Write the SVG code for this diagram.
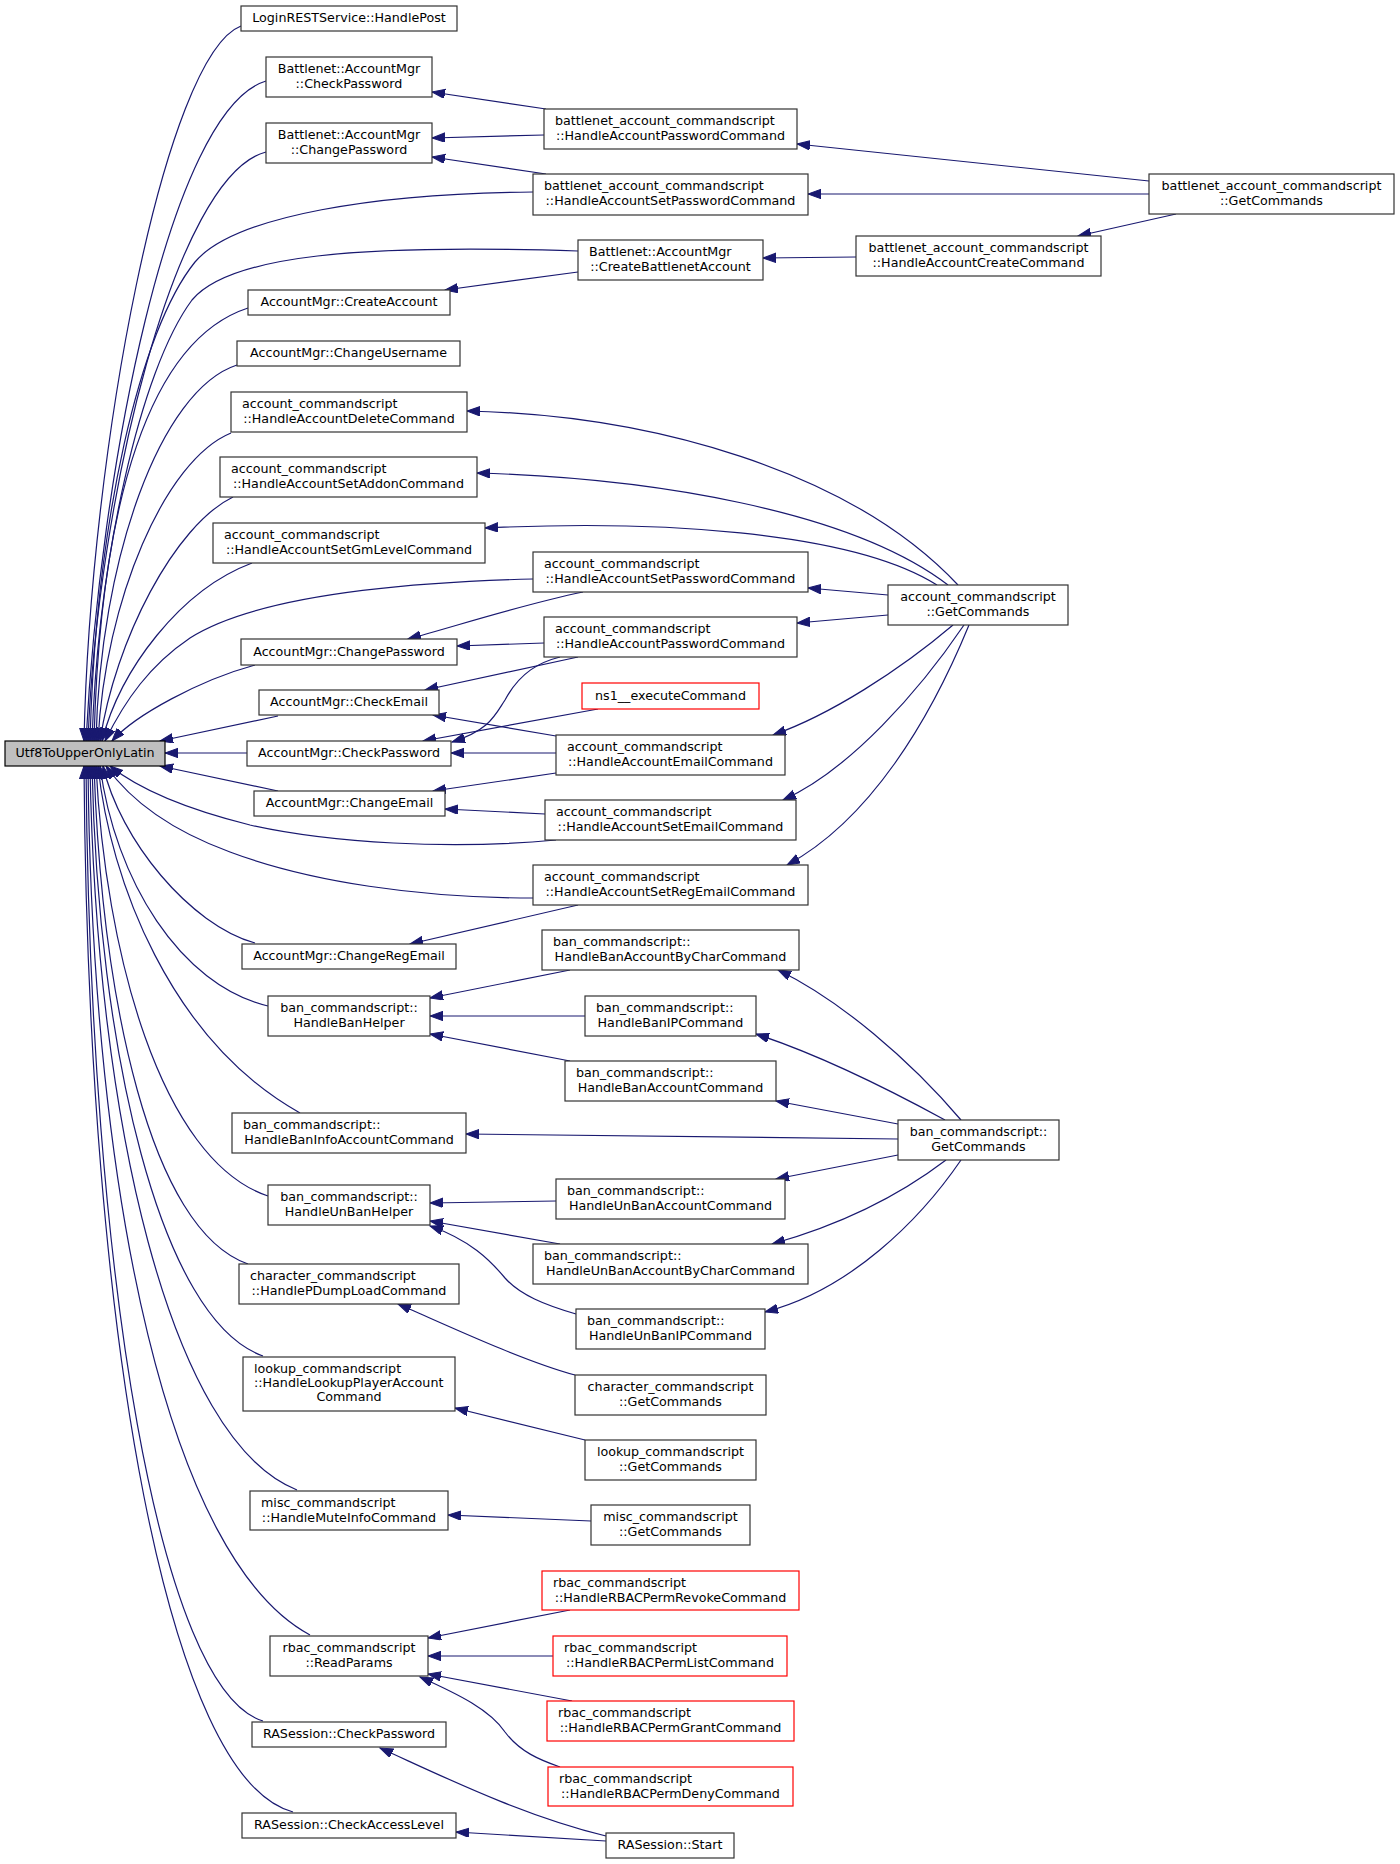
<svg xmlns="http://www.w3.org/2000/svg" width="1400" height="1864" viewBox="0 0 1400 1864">
<style>
.node rect{fill:#fff;stroke:#333;stroke-width:1.2}
.red rect{stroke:#ff0000}
.hl rect{fill:#bfbfbf;stroke:#000}
text{font-family:"DejaVu Sans","Liberation Sans",sans-serif;font-size:12.7px;fill:#000}
.c{text-anchor:middle}
#edges path{fill:none;stroke:#191970;stroke-width:1.2;marker-start:url(#ah)}
</style>
<defs>
<marker id="ah" markerUnits="userSpaceOnUse" markerWidth="15" markerHeight="11" refX="13" refY="4.7" orient="auto-start-reverse">
<path d="M0,0 L13,4.7 L0,9.4 z" fill="#191970" stroke="#191970" stroke-width="1"/>
</marker>
</defs>
<rect x="0" y="0" width="1400" height="1864" fill="#fff"/>
<g id="edges">
<path d="M 84,741 C 90,450 165,55 241,26"/>
<path d="M 86,741 C 100,470 170,110 266,81"/>
<path d="M 88,741 C 97,500 175,175 266,152"/>
<path d="M 90,741 C 96,520 140,330 195,262 C 235,215 380,193 533,192"/>
<path d="M 92,741 C 98,560 140,370 192,300 C 230,255 360,244 578,251"/>
<path d="M 94,741 C 100,500 150,340 248,308"/>
<path d="M 96,741 C 100,560 160,390 237,365"/>
<path d="M 98,741 C 105,600 165,460 231,433"/>
<path d="M 100,741 C 115,640 175,525 233,497"/>
<path d="M 102,741 C 120,670 180,590 252,563"/>
<path d="M 105,741 C 125,700 150,665 190,638 C 250,600 380,583 533,579"/>
<path d="M 112,741 C 135,715 200,680 255,665"/>
<path d="M 160,741 L 278,716"/>
<path d="M 165,753 L 247,753"/>
<path d="M 160,766 L 278,791"/>
<path d="M 110,766 C 140,790 190,810 250,825 C 330,843 450,850 556,840"/>
<path d="M 106,766 C 130,800 170,830 230,852 C 310,882 420,898 533,898"/>
<path d="M 103,766 C 120,840 190,925 255,943"/>
<path d="M 100,766 C 115,880 180,985 268,1006"/>
<path d="M 98,766 C 110,880 170,1040 300,1113"/>
<path d="M 96,766 C 105,950 160,1160 268,1196"/>
<path d="M 94,766 C 102,1000 150,1230 248,1264"/>
<path d="M 92,766 C 98,1050 160,1320 263,1356"/>
<path d="M 90,766 C 96,1120 170,1440 297,1490"/>
<path d="M 88,766 C 92,1200 170,1560 310,1635"/>
<path d="M 86,766 C 90,1280 160,1690 263,1721"/>
<path d="M 84,766 C 88,1350 170,1780 293,1812"/>
<path d="M 432,92 L 546,109"/>
<path d="M 432,138 L 544,135"/>
<path d="M 432,157 L 546,174"/>
<path d="M 445,290 L 578,272"/>
<path d="M 797,144 L 1149,181"/>
<path d="M 808,194 L 1149,194"/>
<path d="M 763,258 L 856,257"/>
<path d="M 1078,236 L 1176,214"/>
<path d="M 467,411 C 650,415 850,470 958,585"/>
<path d="M 477,473 C 650,478 850,510 948,585"/>
<path d="M 485,528 C 650,520 850,530 937,585"/>
<path d="M 808,588 L 888,595"/>
<path d="M 797,623 L 888,615"/>
<path d="M 773,735 C 830,715 900,670 953,625"/>
<path d="M 783,800 C 850,770 920,690 964,625"/>
<path d="M 787,865 C 870,820 930,720 969,625"/>
<path d="M 408,639 C 450,628 520,605 583,592"/>
<path d="M 457,646 L 544,643"/>
<path d="M 425,690 L 578,657"/>
<path d="M 452,742 C 490,730 495,715 505,700 C 520,672 540,662 560,657"/>
<path d="M 423,741 L 598,709"/>
<path d="M 451,753 L 556,753"/>
<path d="M 433,715 L 556,736"/>
<path d="M 433,791 L 556,773"/>
<path d="M 445,809 L 545,814"/>
<path d="M 410,944 L 578,905"/>
<path d="M 430,998 L 570,970"/>
<path d="M 430,1016 L 585,1016"/>
<path d="M 430,1034 L 570,1061"/>
<path d="M 778,970 C 840,1000 910,1060 961,1120"/>
<path d="M 756,1034 C 820,1055 890,1090 945,1120"/>
<path d="M 776,1101 L 898,1124"/>
<path d="M 466,1134 L 898,1139"/>
<path d="M 776,1179 L 898,1155"/>
<path d="M 772,1244 C 840,1225 900,1195 946,1160"/>
<path d="M 765,1312 C 850,1290 920,1220 961,1160"/>
<path d="M 430,1203 L 556,1201"/>
<path d="M 430,1221 L 560,1244"/>
<path d="M 430,1226 C 470,1240 490,1260 505,1278 C 520,1295 545,1305 576,1314"/>
<path d="M 398,1304 C 440,1322 520,1360 575,1375"/>
<path d="M 455,1408 L 585,1440"/>
<path d="M 448,1515 L 591,1521"/>
<path d="M 428,1638 L 570,1610"/>
<path d="M 428,1656 L 553,1656"/>
<path d="M 428,1674 L 572,1701"/>
<path d="M 420,1677 C 460,1695 490,1710 505,1732 C 520,1752 540,1760 560,1767"/>
<path d="M 380,1748 C 440,1775 520,1815 606,1836"/>
<path d="M 456,1832 L 606,1841"/>
</g>
<g id="n_utf8" class="node hl"><rect x="5" y="741" width="160" height="25"/><text class="c" x="85" y="757">Utf8ToUpperOnlyLatin</text></g>
<g id="n_login" class="node"><rect x="241" y="6" width="216" height="25"/><text class="c" x="349" y="22">LoginRESTService::HandlePost</text></g>
<g id="n_bnet_checkpwd" class="node"><rect x="266" y="57" width="166" height="40"/><text class="c" x="349" y="73">Battlenet::AccountMgr</text><text class="c" x="349" y="87.5">::CheckPassword</text></g>
<g id="n_bnet_changepwd" class="node"><rect x="266" y="123" width="166" height="40"/><text class="c" x="349" y="139">Battlenet::AccountMgr</text><text class="c" x="349" y="153.5">::ChangePassword</text></g>
<g id="n_bn_hapc" class="node"><rect x="544" y="109" width="253" height="40"/><text x="555" y="125">battlenet_account_commandscript</text><text class="c" x="670.5" y="139.5">::HandleAccountPasswordCommand</text></g>
<g id="n_bn_haspc" class="node"><rect x="533" y="174" width="275" height="41"/><text x="544" y="190">battlenet_account_commandscript</text><text class="c" x="670.5" y="204.5">::HandleAccountSetPasswordCommand</text></g>
<g id="n_bnet_create" class="node"><rect x="578" y="240" width="185" height="40"/><text x="589" y="256">Battlenet::AccountMgr</text><text class="c" x="670.5" y="270.5">::CreateBattlenetAccount</text></g>
<g id="n_bn_hacc" class="node"><rect x="856" y="236" width="245" height="40"/><text class="c" x="978.5" y="252">battlenet_account_commandscript</text><text class="c" x="978.5" y="266.5">::HandleAccountCreateCommand</text></g>
<g id="n_bn_get" class="node"><rect x="1149" y="174" width="245" height="40"/><text class="c" x="1271.5" y="190">battlenet_account_commandscript</text><text class="c" x="1271.5" y="204.5">::GetCommands</text></g>
<g id="n_am_create" class="node"><rect x="248" y="290" width="202" height="25"/><text class="c" x="349" y="306">AccountMgr::CreateAccount</text></g>
<g id="n_am_username" class="node"><rect x="237" y="341" width="223" height="25"/><text class="c" x="348.5" y="357">AccountMgr::ChangeUsername</text></g>
<g id="n_ac_delete" class="node"><rect x="231" y="392" width="236" height="40"/><text x="242" y="408">account_commandscript</text><text class="c" x="349" y="422.5">::HandleAccountDeleteCommand</text></g>
<g id="n_ac_addon" class="node"><rect x="220" y="457" width="257" height="40"/><text x="231" y="473">account_commandscript</text><text class="c" x="348.5" y="487.5">::HandleAccountSetAddonCommand</text></g>
<g id="n_ac_gm" class="node"><rect x="213" y="523" width="272" height="40"/><text x="224" y="539">account_commandscript</text><text class="c" x="349" y="553.5">::HandleAccountSetGmLevelCommand</text></g>
<g id="n_ac_setpwd" class="node"><rect x="533" y="552" width="275" height="40"/><text x="544" y="568">account_commandscript</text><text class="c" x="670.5" y="582.5">::HandleAccountSetPasswordCommand</text></g>
<g id="n_ac_pwd" class="node"><rect x="544" y="617" width="253" height="40"/><text x="555" y="633">account_commandscript</text><text class="c" x="670.5" y="647.5">::HandleAccountPasswordCommand</text></g>
<g id="n_ns1" class="node red"><rect x="582" y="683" width="177" height="26"/><text class="c" x="670.5" y="700">ns1__executeCommand</text></g>
<g id="n_ac_email" class="node"><rect x="556" y="735" width="229" height="40"/><text x="567" y="751">account_commandscript</text><text class="c" x="670.5" y="765.5">::HandleAccountEmailCommand</text></g>
<g id="n_ac_setemail" class="node"><rect x="545" y="800" width="251" height="40"/><text x="556" y="816">account_commandscript</text><text class="c" x="670.5" y="830.5">::HandleAccountSetEmailCommand</text></g>
<g id="n_ac_setregemail" class="node"><rect x="533" y="865" width="275" height="40"/><text x="544" y="881">account_commandscript</text><text class="c" x="670.5" y="895.5">::HandleAccountSetRegEmailCommand</text></g>
<g id="n_ac_get" class="node"><rect x="888" y="585" width="180" height="40"/><text class="c" x="978" y="601">account_commandscript</text><text class="c" x="978" y="615.5">::GetCommands</text></g>
<g id="n_am_changepwd" class="node"><rect x="241" y="639" width="216" height="26"/><text class="c" x="349" y="656">AccountMgr::ChangePassword</text></g>
<g id="n_am_checkemail" class="node"><rect x="259" y="690" width="180" height="25"/><text class="c" x="349" y="706">AccountMgr::CheckEmail</text></g>
<g id="n_am_checkpwd" class="node"><rect x="247" y="741" width="204" height="25"/><text class="c" x="349" y="757">AccountMgr::CheckPassword</text></g>
<g id="n_am_changeemail" class="node"><rect x="254" y="791" width="191" height="25"/><text class="c" x="349.5" y="807">AccountMgr::ChangeEmail</text></g>
<g id="n_am_changeregemail" class="node"><rect x="242" y="944" width="214" height="25"/><text class="c" x="349" y="960">AccountMgr::ChangeRegEmail</text></g>
<g id="n_ban_helper" class="node"><rect x="268" y="996" width="162" height="40"/><text class="c" x="349" y="1012">ban_commandscript::</text><text class="c" x="349" y="1026.5">HandleBanHelper</text></g>
<g id="n_ban_bychar" class="node"><rect x="542" y="930" width="257" height="40"/><text x="553" y="946">ban_commandscript::</text><text class="c" x="670.5" y="960.5">HandleBanAccountByCharCommand</text></g>
<g id="n_ban_ip" class="node"><rect x="585" y="996" width="171" height="40"/><text x="596" y="1012">ban_commandscript::</text><text class="c" x="670.5" y="1026.5">HandleBanIPCommand</text></g>
<g id="n_ban_account" class="node"><rect x="565" y="1061" width="211" height="40"/><text x="576" y="1077">ban_commandscript::</text><text class="c" x="670.5" y="1091.5">HandleBanAccountCommand</text></g>
<g id="n_ban_get" class="node"><rect x="898" y="1120" width="161" height="40"/><text class="c" x="978.5" y="1136">ban_commandscript::</text><text class="c" x="978.5" y="1150.5">GetCommands</text></g>
<g id="n_ban_info" class="node"><rect x="232" y="1113" width="234" height="40"/><text x="243" y="1129">ban_commandscript::</text><text class="c" x="349" y="1143.5">HandleBanInfoAccountCommand</text></g>
<g id="n_unban_helper" class="node"><rect x="268" y="1185" width="162" height="40"/><text class="c" x="349" y="1201">ban_commandscript::</text><text class="c" x="349" y="1215.5">HandleUnBanHelper</text></g>
<g id="n_unban_account" class="node"><rect x="556" y="1179" width="229" height="40"/><text x="567" y="1195">ban_commandscript::</text><text class="c" x="670.5" y="1209.5">HandleUnBanAccountCommand</text></g>
<g id="n_unban_bychar" class="node"><rect x="533" y="1244" width="275" height="40"/><text x="544" y="1260">ban_commandscript::</text><text class="c" x="670.5" y="1274.5">HandleUnBanAccountByCharCommand</text></g>
<g id="n_unban_ip" class="node"><rect x="576" y="1309" width="189" height="40"/><text x="587" y="1325">ban_commandscript::</text><text class="c" x="670.5" y="1339.5">HandleUnBanIPCommand</text></g>
<g id="n_ch_pdump" class="node"><rect x="239" y="1264" width="220" height="40"/><text x="250" y="1280">character_commandscript</text><text class="c" x="349" y="1294.5">::HandlePDumpLoadCommand</text></g>
<g id="n_ch_get" class="node"><rect x="575" y="1375" width="191" height="40"/><text class="c" x="670.5" y="1391">character_commandscript</text><text class="c" x="670.5" y="1405.5">::GetCommands</text></g>
<g id="n_lk_player" class="node"><rect x="243" y="1357" width="212" height="54"/><text x="254" y="1372.7">lookup_commandscript</text><text x="254" y="1387">::HandleLookupPlayerAccount</text><text class="c" x="349" y="1401.3">Command</text></g>
<g id="n_lk_get" class="node"><rect x="585" y="1440" width="171" height="40"/><text class="c" x="670.5" y="1456">lookup_commandscript</text><text class="c" x="670.5" y="1470.5">::GetCommands</text></g>
<g id="n_misc_mute" class="node"><rect x="250" y="1491" width="198" height="39"/><text x="261" y="1507">misc_commandscript</text><text class="c" x="349" y="1521.5">::HandleMuteInfoCommand</text></g>
<g id="n_misc_get" class="node"><rect x="591" y="1505" width="159" height="40"/><text class="c" x="670.5" y="1521">misc_commandscript</text><text class="c" x="670.5" y="1535.5">::GetCommands</text></g>
<g id="n_rbac_read" class="node"><rect x="270" y="1636" width="158" height="40"/><text class="c" x="349" y="1652">rbac_commandscript</text><text class="c" x="349" y="1666.5">::ReadParams</text></g>
<g id="n_rbac_revoke" class="node red"><rect x="542" y="1571" width="257" height="39"/><text x="553" y="1587">rbac_commandscript</text><text class="c" x="670.5" y="1601.5">::HandleRBACPermRevokeCommand</text></g>
<g id="n_rbac_list" class="node red"><rect x="553" y="1636" width="234" height="40"/><text x="564" y="1652">rbac_commandscript</text><text class="c" x="670" y="1666.5">::HandleRBACPermListCommand</text></g>
<g id="n_rbac_grant" class="node red"><rect x="547" y="1701" width="247" height="40"/><text x="558" y="1717">rbac_commandscript</text><text class="c" x="670.5" y="1731.5">::HandleRBACPermGrantCommand</text></g>
<g id="n_rbac_deny" class="node red"><rect x="548" y="1767" width="245" height="39"/><text x="559" y="1783">rbac_commandscript</text><text class="c" x="670.5" y="1797.5">::HandleRBACPermDenyCommand</text></g>
<g id="n_ra_checkpwd" class="node"><rect x="252" y="1722" width="194" height="25"/><text class="c" x="349" y="1738">RASession::CheckPassword</text></g>
<g id="n_ra_access" class="node"><rect x="242" y="1813" width="214" height="25"/><text class="c" x="349" y="1829">RASession::CheckAccessLevel</text></g>
<g id="n_ra_start" class="node"><rect x="606" y="1833" width="128" height="25"/><text class="c" x="670" y="1849">RASession::Start</text></g>
</svg>
